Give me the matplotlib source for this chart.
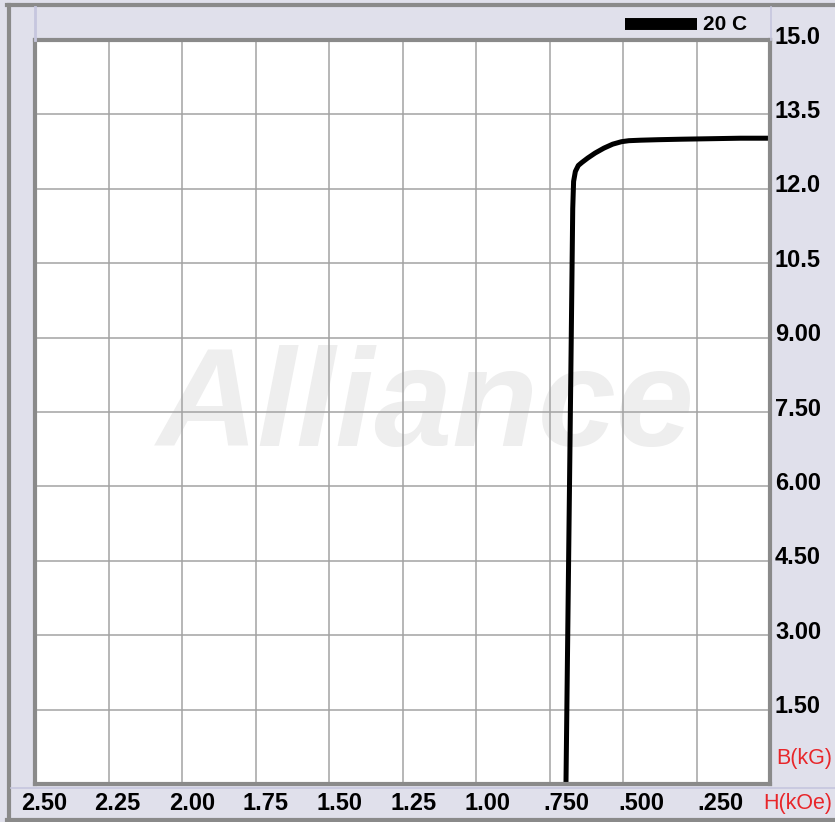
import matplotlib
matplotlib.use('Agg')
import matplotlib.pyplot as plt
import matplotlib.transforms as mtransforms
from matplotlib.lines import Line2D

plt.rcParams['font.family'] = ['Liberation Sans', 'DejaVu Sans']

# Curva de desmagnetizacion (H en kOe, B en kG)
h_kOe = [0.694, 0.688, 0.682, 0.676, 0.671, 0.668, 0.662, 0.652, 0.640, 0.620,
         0.595, 0.565, 0.535, 0.505, 0.480, 0.440, 0.380, 0.300, 0.200, 0.100, 0.0]
b_kG = [0.0, 3.0, 6.0, 9.0, 11.6, 12.15, 12.35, 12.47, 12.53, 12.62,
        12.72, 12.82, 12.90, 12.95, 12.97, 12.98, 12.99, 13.00, 13.01, 13.02, 13.02]
serie = '20 C'

x_ticks = [2.50, 2.25, 2.00, 1.75, 1.50, 1.25, 1.00, 0.75, 0.50, 0.25]
x_labels = ['2.50', '2.25', '2.00', '1.75', '1.50', '1.25', '1.00', '.750', '.500', '.250']
y_ticks = [15.0, 13.5, 12.0, 10.5, 9.0, 7.5, 6.0, 4.5, 3.0, 1.5]
y_labels = ['15.0', '13.5', '12.0', '10.5', '9.00', '7.50', '6.00', '4.50', '3.00', '1.50']

W, H = 835, 822
fondo = '#e0e0eb'
rojo = '#e8262a'

fig = plt.figure(figsize=(W / 100, H / 100), dpi=100, facecolor=fondo)
ax = fig.add_axes([35 / W, (H - 784) / H, 735 / W, 744 / H])
ax.set_facecolor('white')

ax.plot(h_kOe, b_kG, color='black', linewidth=3.6, solid_capstyle='butt', zorder=4)

ax.set_xlim(2.5, 0)
ax.set_ylim(0, 15)
ax.set_xticks(x_ticks)
ax.set_yticks(y_ticks)
ax.grid(True, color='#a3a3a3', linewidth=1.1, zorder=2)
ax.tick_params(length=0, labelbottom=False, labelleft=False)
for s in ax.spines.values():
    s.set_color('#8a8a8a')
    s.set_linewidth(3.0)
    s.set_zorder(5)

# marca de agua
ax.text(1.17, 7.55, 'Alliance', fontsize=101, fontweight='bold', style='italic',
        color='#eeeeee', ha='center', va='center', zorder=1)

# etiquetas del eje x (desplazadas a la derecha como en el original)
offs = [9, 9, 10, 10, 11, 11, 11, 17, 18, 24]
for v, lab, dx in zip(x_ticks, x_labels, offs):
    tr = mtransforms.offset_copy(ax.get_xaxis_transform(), fig=fig, x=dx, y=-19, units='dots')
    ax.text(v, 0, lab, transform=tr, ha='center', va='center', fontsize=17,
            fontweight='bold', clip_on=False)

for v, lab in zip(y_ticks, y_labels):
    tr = mtransforms.offset_copy(ax.get_yaxis_transform(), fig=fig, x=5, y=3, units='dots')
    ax.text(1, v, lab, transform=tr, ha='left', va='center', fontsize=17,
            fontweight='bold', clip_on=False)

fig.text(776 / W, 1 - 758 / H, 'B(kG)', color=rojo, fontsize=15.5, ha='left', va='center')
fig.text(763 / W, 1 - 803 / H, 'H(kOe)', color=rojo, fontsize=15.5, ha='left', va='center')

# leyenda
fig.add_artist(Line2D([625 / W, 697 / W], [1 - 24.5 / H, 1 - 24.5 / H], color='black',
                      linewidth=8.6, solid_capstyle='butt'))
fig.text(703 / W, 1 - 25 / H, serie, fontsize=15, fontweight='bold', ha='left', va='center')

# marcos y separadores
gris = '#8a8a8a'
fig.add_artist(Line2D([9 / W, 9 / W], [1 - 5 / H, 1 - 820 / H], color=gris, linewidth=3))
fig.add_artist(Line2D([7 / W, 1], [1 - 5 / H, 1 - 5 / H], color=gris, linewidth=3))
fig.add_artist(Line2D([7 / W, 1], [1 - 820 / H, 1 - 820 / H], color=gris, linewidth=3))
fig.add_artist(Line2D([35 / W, 35 / W], [1 - 7 / H, 1 - 40 / H], color='#c6c6de', linewidth=2))
fig.add_artist(Line2D([771 / W, 771 / W], [1 - 7 / H, 1 - 40 / H], color='#c6c6de', linewidth=1.2))
fig.add_artist(Line2D([11 / W, 1], [1 - 788 / H, 1 - 788 / H], color='#c6c6de', linewidth=1.2))

fig.savefig('out.png', dpi=100, facecolor=fondo)
